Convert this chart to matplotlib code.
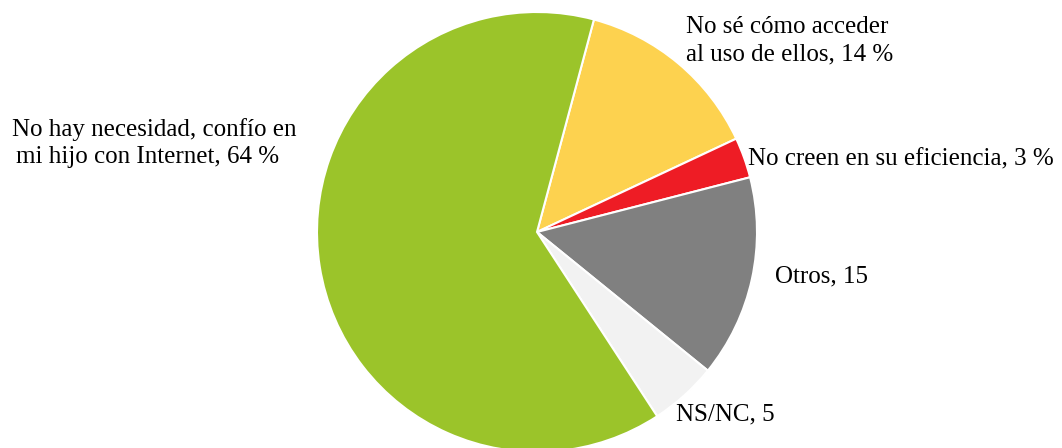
import matplotlib
matplotlib.use("Agg")
import matplotlib.pyplot as plt

# data (clockwise from the top)
categories = ["No sé cómo acceder al uso de ellos", "No creen en su eficiencia",
              "Otros", "NS/NC", "No hay necesidad, confío en mi hijo con Internet"]
values = [14, 3, 15, 5, 64]
colors = ["#FDD24F", "#EE1C25", "#808080", "#F2F2F2", "#9BC42A"]

label_lines = [
    ["No sé cómo acceder", "al uso de ellos, 14 %"],
    ["No creen en su eficiencia, 3 %"],
    ["Otros, 15"],
    ["NS/NC, 5"],
    ["No hay necesidad, confío en", "mi hijo con Internet, 64 %"],
]
# left x and first baseline (pixels from top-left)
label_pos = [(686, 33), (748, 165), (775, 282), (676, 420), (12, 136)]
line_indent = [0, 0, 0, 0, 4]

W, H = 1062, 448
fig = plt.figure(figsize=(W / 100, H / 100), dpi=100)
ax = fig.add_axes([0, 0, 1, 1])

cx, cy, r = 537, 232, 220
ax.pie(values, colors=colors, startangle=75, counterclock=False,
       wedgeprops=dict(edgecolor="white", linewidth=1.5))
ax.set_xlim(-cx / r, (W - cx) / r)
ax.set_ylim(-(H - cy) / r, cy / r)
ax.set_aspect("equal")
ax.axis("off")

for lines, (x, y), ind in zip(label_lines, label_pos, line_indent):
    for i, line in enumerate(lines):
        fig.text((x + (ind if i else 0)) / W, 1 - (y + i * 27) / H, line,
                 family="Liberation Serif", fontsize=18, va="baseline", ha="left",
                 color="black")

fig.savefig("out.png", dpi=100)
